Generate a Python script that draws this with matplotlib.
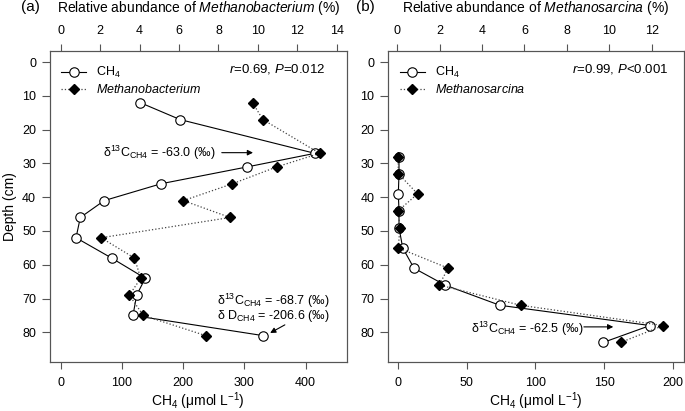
import matplotlib
matplotlib.use('Agg')
import matplotlib.pyplot as plt
from matplotlib.lines import Line2D

plt.rcParams['font.family'] = ['Liberation Sans', 'DejaVu Sans']
plt.rcParams['mathtext.fontset'] = 'custom'
plt.rcParams['mathtext.rm'] = 'Liberation Sans'
plt.rcParams['mathtext.it'] = 'Liberation Sans:italic'
plt.rcParams['mathtext.bf'] = 'Liberation Sans:bold'

# --- DATA ---
depth_a = [12, 17, 27, 31, 36, 41, 46, 52, 58, 64, 69, 75, 81]
ch4_a = [130, 195, 415, 305, 164, 71, 32, 25, 83, 138, 124, 118, 331]
mbac_a = [9.73, 10.25, 13.13, 10.96, 8.71, 6.22, 8.59, 2.05, 3.74, 4.06, 3.48, 4.19, 7.36]

depth_b = [28, 33, 39, 44, 49, 55, 61, 66, 72, 78, 83]
ch4_b = [0.5, 0.5, 0, 0.5, 0.5, 3.2, 11.4, 34, 74, 183.5, 149.4]
msar_b = [0.05, 0.05, 0.96, 0.05, 0.13, 0.05, 2.4, 1.98, 5.82, 12.55, 10.54]

ticks_ch4_a = [0, 100, 200, 300, 400]
ticks_ch4_b = [0, 50, 100, 150, 200]
ticks_rel_a = [0, 2, 4, 6, 8, 10, 12, 14]
ticks_rel_b = [0, 2, 4, 6, 8, 10, 12]
ticks_depth = [0, 10, 20, 30, 40, 50, 60, 70, 80]

EDGE = '#555555'
FS = 9

fig = plt.figure(figsize=(6.85, 4.11), dpi=100)
ax_a = fig.add_axes([50 / 685, 1 - 362 / 411, 296.7 / 685, 311.3 / 411])
ax_b = fig.add_axes([388.3 / 685, 1 - 362 / 411, 295.2 / 685, 311.3 / 411])


def style(ax, top=False):
    for sp in ax.spines.values():
        sp.set_color(EDGE)
        sp.set_linewidth(0.8)
    if top:
        ax.tick_params(axis='x', direction='out', length=5, width=0.8, color=EDGE,
                       labelsize=FS, pad=5.0)
    else:
        ax.tick_params(axis='x', direction='out', length=5, width=0.8, color=EDGE,
                       labelsize=FS, pad=6.0)
        ax.tick_params(axis='y', direction='out', length=5.5, width=0.8, color=EDGE,
                       labelsize=FS, pad=4.5)


def panel(ax, depth, ch4, rel, xlim_b, xlim_t, ticks_b, ticks_t, genus, stat, stat_x):
    ax.plot(ch4, depth, '-', color='black', lw=0.8, marker='o', ms=6.8,
            mfc='white', mec='black', mew=0.8, zorder=3)
    ax.set_xlim(*xlim_b)
    ax.set_ylim(88.8, -3.4)
    ax.set_xticks(ticks_b)
    ax.set_yticks(ticks_depth)
    ax.set_xlabel('CH$_4$ (μmol L$^{-1}$)', fontsize=10, labelpad=0.8)
    style(ax)

    axt = ax.twiny()
    axt.plot(rel, depth, ':', color='#444444', lw=0.9, marker='D', ms=5.6,
             mfc='black', mec='black', zorder=3)
    axt.set_xlim(*xlim_t)
    axt.set_xticks(ticks_t)
    axt.set_xlabel('Relative abundance of $\\mathit{' + genus + '}$ (%)', fontsize=10,
                   labelpad=9.5)
    style(axt, top=True)

    handles = [
        Line2D([], [], color='black', lw=0.8, marker='o', ms=6.8, mfc='white',
               mec='black', mew=0.8),
        Line2D([], [], color='#444444', lw=0.9, ls=':', marker='D', ms=5.6,
               mfc='black', mec='black'),
    ]
    ax.legend(handles, ['CH$_4$', '$\\mathit{' + genus + '}$'], loc='upper left',
              bbox_to_anchor=(0.0, 0.99), frameon=False, fontsize=FS,
              handlelength=2.0, handletextpad=0.8, labelspacing=0.25)
    ax.text(stat_x, 0.941, stat, transform=ax.transAxes, ha='right', va='center',
            fontsize=FS + 0.5)
    return axt


panel(ax_a, depth_a, ch4_a, mbac_a, (-17.5, 467), (-0.54, 14.5), ticks_ch4_a, ticks_rel_a,
      'Methanobacterium', '$\\mathit{r}$=0.69, $\\mathit{P}$=0.012', 0.927)
ax_a.set_ylabel('Depth (cm)', fontsize=10, labelpad=4)
panel(ax_b, depth_b, ch4_b, msar_b, (-7.3, 207.9), (-0.42, 13.5), ticks_ch4_b, ticks_rel_b,
      'Methanosarcina', '$\\mathit{r}$=0.99, $\\mathit{P}$<0.001', 0.9485)

fig.text(21 / 685, 1 - 7 / 411, '(a)', fontsize=11, va='center', ha='left')
fig.text(356 / 685, 1 - 7 / 411, '(b)', fontsize=11, va='center', ha='left')

arrow = dict(arrowstyle='-|>', color='black', lw=0.8, mutation_scale=8, shrinkA=0, shrinkB=0)

ax_a.text(69, 26.8, 'δ$^{13}$C$_{\\mathrm{CH4}}$ = -63.0 (‰)', fontsize=FS, va='center', ha='left')
ax_a.annotate('', xy=(314, 26.8), xytext=(263, 26.8), arrowprops=arrow)

ax_a.text(255, 70.6, 'δ$^{13}$C$_{\\mathrm{CH4}}$ = -68.7 (‰)', fontsize=FS, va='center', ha='left')
ax_a.text(255, 75.2, 'δ D$_{\\mathrm{CH4}}$ = -206.6 (‰)', fontsize=FS, va='center', ha='left')
ax_a.annotate('', xy=(342, 80.2), xytext=(366, 77.8), arrowprops=arrow)

ax_b.text(52.8, 79.1, 'δ$^{13}$C$_{\\mathrm{CH4}}$ = -62.5 (‰)', fontsize=FS, va='center', ha='left')
ax_b.annotate('', xy=(156.7, 78.4), xytext=(135.3, 78.4), arrowprops=arrow)

fig.savefig('out.png', dpi=100)
